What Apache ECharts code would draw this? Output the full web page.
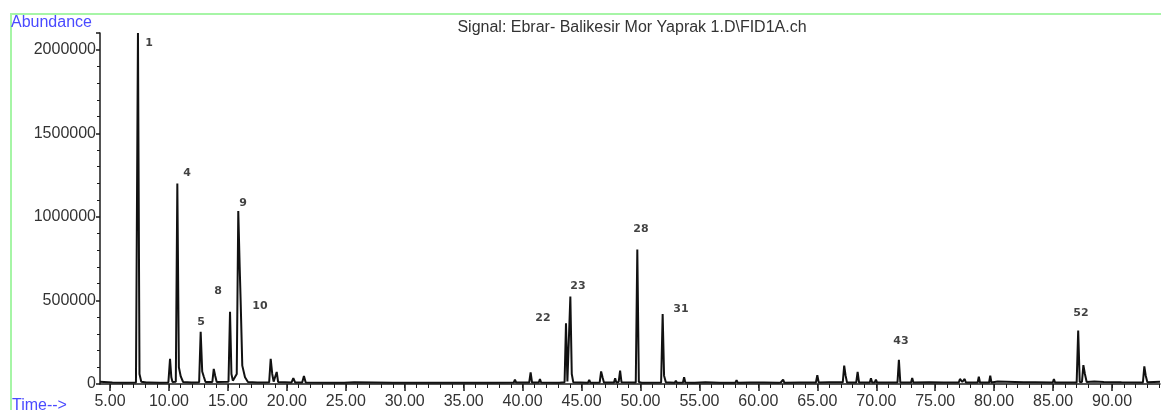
<!DOCTYPE html>
<html>
<head>
<meta charset="utf-8">
<script src="https://cdn.jsdelivr.net/npm/echarts@6/dist/echarts.min.js"></script>
<style>
html,body{margin:0;padding:0;background:#fff;}
#chart{width:1161px;height:410px;}
</style>
</head>
<body>
<div id="chart"></div>
<script>
// Chromatogram trace: retention time (min) and abundance
var traceTime = [
  4.15, 5.2, 6.3, 7.2, 7.37, 7.5, 7.65, 8.1, 8.2, 8.3, 9.2, 9.95, 10.09, 10.2, 10.3, 10.58, 10.71, 10.84, 11.0, 11.2,
  11.9, 12.0, 12.1, 12.56, 12.69, 12.82, 12.95, 13.1, 13.68, 13.8, 13.92, 14.05, 15.05, 15.18, 15.3, 15.42, 15.75, 15.88,
  16.0, 16.08, 16.22, 16.45, 16.7, 17.5, 17.6, 17.7, 18.5, 18.63, 18.76, 18.88, 19.02, 19.14, 19.26, 20.4, 20.55, 20.7,
  21.3, 21.45, 21.6, 23.6, 23.7, 23.8, 24.6, 24.73, 24.86, 25.7, 29.0, 32.0, 34.8, 34.9, 35.0, 37.5, 39.25, 39.35, 39.45,
  40.56, 40.68, 40.8, 41.37, 41.47, 41.57, 42.9, 43.0, 43.1, 43.56, 43.68, 43.8, 43.93, 44.05, 44.17, 44.3, 45.55, 45.65,
  45.75, 46.54, 46.66, 46.78, 46.9, 47.75, 47.85, 47.95, 48.15, 48.27, 48.39, 49.6, 49.73, 49.86, 50.1, 50.2, 50.3, 51.75,
  51.88, 52.0, 52.15, 52.9, 53.0, 53.1, 53.6, 53.7, 53.8, 54.4, 54.5, 54.6, 55.5, 56.7, 56.8, 56.9, 58.05, 58.15, 58.25,
  59.3, 60.5, 61.7, 61.8, 61.9, 62.0, 62.1, 62.2, 63.5, 64.88, 65.0, 65.12, 66.0, 67.16, 67.28, 67.4, 67.52, 68.3, 68.42,
  68.54, 69.45, 69.55, 69.65, 69.87, 69.97, 70.07, 71.8, 71.92, 72.04, 72.95, 73.05, 73.15, 74.5, 75.7, 77.0, 77.1, 77.3,
  77.5, 77.6, 78.6, 78.7, 78.8, 79.57, 79.67, 79.77, 80.3, 82.5, 83.5, 84.97, 85.07, 85.17, 87.0, 87.13, 87.26, 87.45,
  87.57, 87.7, 87.85, 88.5, 89.3, 90.8, 92.62, 92.74, 92.86, 93.0, 94.07
];
var traceAbundance = [
  14000, 9000, 8000, 9000, 2100000, 60000, 14000, 9000, 16000, 9000, 8000, 9000, 150000, 40000, 12000, 14000, 1200000, 100000, 45000, 12000,
  9000, 16000, 9000, 10000, 312000, 75000, 45000, 12000, 12000, 90000, 50000, 12000, 14000, 432000, 60000, 20000, 60000, 1035000,
  700000, 500000, 110000, 40000, 12000, 9000, 16000, 9000, 10000, 150000, 60000, 14000, 20000, 72000, 12000, 9000, 35000, 9000,
  9000, 48000, 9000, 8000, 14000, 8000, 8000, 17000, 8000, 10000, 8000, 8000, 8000, 15000, 8000, 8000, 9000, 26000, 9000,
  9000, 70000, 9000, 9000, 30000, 9000, 8000, 16000, 8000, 10000, 364000, 15000, 15000, 523000, 60000, 10000, 8000, 24000,
  8000, 9000, 75000, 40000, 9000, 9000, 35000, 9000, 12000, 80000, 10000, 9000, 805000, 12000, 8000, 16000, 8000, 9000,
  418000, 50000, 10000, 8000, 20000, 8000, 9000, 40000, 9000, 8000, 13000, 8000, 10000, 8000, 15000, 8000, 8000, 22000, 8000,
  9000, 9000, 8000, 18000, 9000, 10000, 26000, 8000, 9000, 9000, 52000, 9000, 11000, 10000, 110000, 50000, 9000, 9000, 73000,
  9000, 9000, 34000, 9000, 9000, 26000, 9000, 9000, 145000, 9000, 9000, 36000, 9000, 10000, 9000, 9000, 30000, 12000,
  30000, 9000, 9000, 44000, 9000, 9000, 50000, 9000, 15000, 10000, 10000, 9000, 30000, 9000, 9000, 320000, 12000, 12000,
  113000, 60000, 12000, 15000, 12000, 10000, 9000, 105000, 50000, 10000, 14000
];

// Peak number labels (placed next to the peaks)
var peakLabels = ['1', '4', '5', '8', '9', '10', '22', '23', '28', '31', '43', '52'];
var peakLabelTime = [8.31, 11.53, 12.72, 14.16, 16.28, 17.72, 41.73, 44.69, 50.04, 53.43, 72.09, 87.36];
var peakLabelAbundance = [2040000, 1260000, 370000, 555000, 1080000, 465000, 394000, 585000, 925000, 448000, 257000, 424000];

// Axis tick labels
var xTickLabels = [5, 10, 15, 20, 25, 30, 35, 40, 45, 50, 55, 60, 65, 70, 75, 80, 85, 90];
var xMinorTicks = [];
for (var m = 5; m <= 94; m++) { xMinorTicks.push(m); }

var traceData = traceTime.map(function (t, i) { return [t, traceAbundance[i]]; });
var labelData = peakLabels.map(function (n, i) { return { name: n, value: [peakLabelTime[i], peakLabelAbundance[i]] }; });

var chart = echarts.init(document.getElementById('chart'), null, { renderer: 'canvas' });
var axisColor = '#1a1a1a';
var labelColor = '#333333';
chart.setOption({
  animation: false,
  backgroundColor: '#ffffff',
  title: {
    text: 'Signal: Ebrar- Balikesir Mor Yaprak 1.D\\FID1A.ch',
    left: 627, top: 15, textAlign: 'center',
    textStyle: { fontFamily: 'Liberation Sans', fontSize: 16, fontWeight: 'normal', color: '#333333' }
  },
  graphic: [
    { type: 'line', shape: { x1: 11, y1: 14, x2: 11, y2: 410 }, style: { stroke: '#a6f5a6', lineWidth: 2 } },
    { type: 'line', shape: { x1: 10, y1: 14, x2: 1161, y2: 14 }, style: { stroke: '#a6f5a6', lineWidth: 2 } },
    { type: 'text', left: 11, top: 15, style: { text: 'Abundance', fontFamily: 'Liberation Sans', fontSize: 16, fill: '#4a4aff' } },
    { type: 'text', left: 12, top: 398, style: { text: 'Time-->', fontFamily: 'Liberation Sans', fontSize: 16, fill: '#4a4aff' } }
  ],
  grid: { left: 100, right: 1, top: 33, bottom: 25, containLabel: false },
  xAxis: [
    {
      type: 'value', min: 4.15, max: 94.07, position: 'bottom',
      axisLine: { show: true, onZero: false, lineStyle: { color: axisColor, width: 1.5 } },
      axisTick: { show: true, customValues: xTickLabels, length: 7, inside: false, lineStyle: { color: axisColor, width: 1.5 } },
      axisLabel: { show: true, customValues: xTickLabels, margin: 10, fontFamily: 'Liberation Sans', fontSize: 16, color: labelColor,
        formatter: function (v) { return v.toFixed(2); } },
      splitLine: { show: false }
    },
    {
      type: 'value', min: 4.15, max: 94.07, position: 'bottom', gridIndex: 0,
      axisLine: { show: false },
      axisTick: { show: true, customValues: xMinorTicks, length: 4, inside: false, lineStyle: { color: axisColor, width: 1 } },
      axisLabel: { show: false },
      splitLine: { show: false }
    }
  ],
  yAxis: {
    type: 'value', min: 0, max: 2100000, interval: 500000,
    axisLine: { show: true, lineStyle: { color: axisColor, width: 1.5 } },
    axisTick: { show: true, length: 4, lineStyle: { color: axisColor, width: 1.5 } },
    minorTick: { show: true, splitNumber: 5, length: 3, lineStyle: { color: axisColor, width: 1 } },
    axisLabel: { show: true, margin: 4, fontFamily: 'Liberation Sans', fontSize: 16, color: labelColor, showMaxLabel: false,
      formatter: function (v) { return String(v); } },
    splitLine: { show: false }
  },
  series: [
    {
      type: 'line', xAxisIndex: 0, data: traceData, showSymbol: false, symbol: 'none',
      lineStyle: { color: '#111111', width: 2 }, z: 3
    },
    {
      type: 'scatter', xAxisIndex: 0, data: labelData, symbolSize: 0, silent: true,
      label: { show: true, position: 'inside', formatter: '{b}', fontFamily: 'DejaVu Sans', fontSize: 11, fontWeight: 'bold', color: '#111111' }
    }
  ]
});
</script>
</body>
</html>
